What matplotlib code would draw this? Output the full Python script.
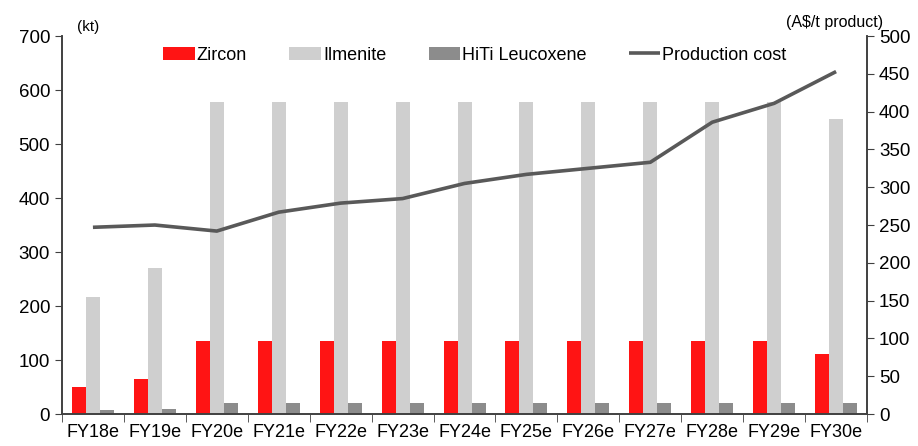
import numpy as np
import matplotlib
matplotlib.use('Agg')
import matplotlib.pyplot as plt

plt.rcParams['font.family'] = ['Liberation Sans', 'DejaVu Sans']

years = ['FY18e', 'FY19e', 'FY20e', 'FY21e', 'FY22e', 'FY23e', 'FY24e',
         'FY25e', 'FY26e', 'FY27e', 'FY28e', 'FY29e', 'FY30e']
zircon = [50, 64, 135, 135, 135, 135, 135, 135, 135, 135, 135, 135, 111]
ilmenite = [217, 271, 578, 578, 578, 578, 578, 578, 578, 578, 578, 578, 546]
leucoxene = [7, 10, 21, 21, 21, 21, 21, 21, 21, 21, 21, 21, 21]
prodCost = [247, 250, 242, 267, 279, 285, 305, 317, 325, 333, 386, 411, 453]

fig = plt.figure(figsize=(9.18, 4.46), dpi=100)
ax = fig.add_axes([0.0675, 0.0717, 0.877, 0.8475])
ax2 = ax.twinx()

x = np.arange(len(years))
w = 0.226
ax.bar(x - w, zircon, w, color='#ff1414', label='Zircon', zorder=2)
ax.bar(x, ilmenite, w, color='#cfcfcf', label='Ilmenite', zorder=2)
ax.bar(x + w, leucoxene, w, color='#8c8c8c', label='HiTi Leucoxene', zorder=2)
ax2.plot(x, prodCost, color='#595959', lw=2.6, label='Production cost',
         solid_capstyle='butt')

ax.set_xlim(-0.5, len(years) - 0.5)
ax.set_ylim(0, 700)
ax2.set_ylim(0, 500)
ax.set_yticks(range(0, 701, 100))
ax2.set_yticks(range(0, 501, 50))

ax.set_xticks(x)
ax.set_xticklabels(years)
ax.set_xticks(np.arange(-0.5, len(years), 1), minor=True)
ax.tick_params(axis='x', which='major', length=0, pad=7, labelsize=13)
ax.tick_params(axis='x', which='minor', length=6, direction='out', color='#404040')
ax.tick_params(axis='y', length=5, direction='out', labelsize=13.5, color='#404040')
ax2.tick_params(axis='y', length=5, direction='out', labelsize=13.5, color='#404040')

for a in (ax, ax2):
  a.spines['top'].set_visible(False)
  for s in ('left', 'right', 'bottom'):
    a.spines[s].set_color('#404040')
    a.spines[s].set_linewidth(1.2)

ax.text(0.019, 1.005, '(kt)', transform=ax.transAxes, fontsize=11, ha='left', va='bottom')
ax2.text(1.02, 1.015, '(A\\$/t product)', transform=ax2.transAxes, fontsize=11.5,
         ha='right', va='bottom')

h1, l1 = ax.get_legend_handles_labels()
h2, l2 = ax2.get_legend_handles_labels()
ax.legend(h1 + h2, l1 + l2, ncol=4, loc='upper center', bbox_to_anchor=(0.513, 1.015),
          frameon=False, fontsize=13, handlelength=1.75, handleheight=0.7,
          handletextpad=0.1, columnspacing=2.35)

fig.savefig('out.png', dpi=100)
